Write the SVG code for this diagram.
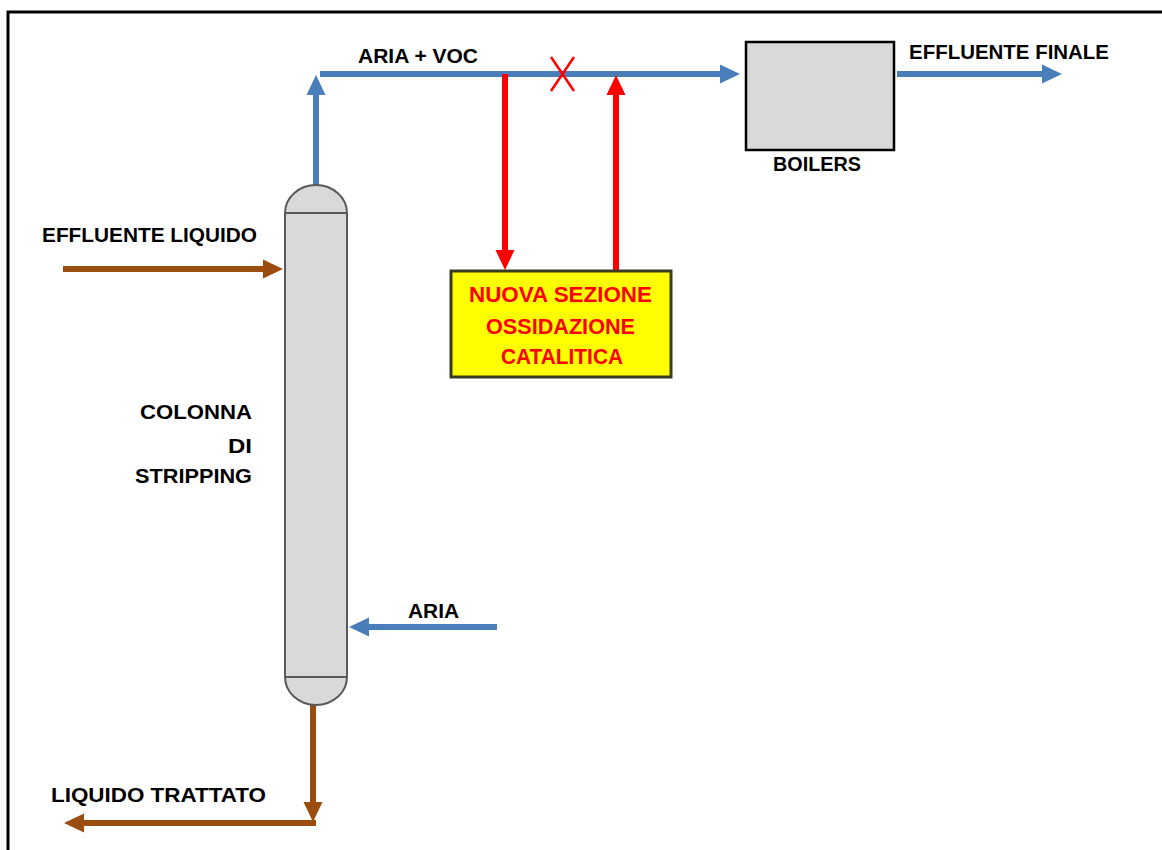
<svg xmlns="http://www.w3.org/2000/svg" width="1162" height="850" viewBox="0 0 1162 850">
<style>
.t{font-family:"Liberation Sans",Arial,sans-serif;font-weight:bold;font-size:21px;fill:#000}
.r{font-family:"Liberation Sans",Arial,sans-serif;font-weight:bold;font-size:22px;fill:#ff0000}
.blue{stroke:#4a7ebb;stroke-width:6;fill:none}
.brown{stroke:#9a4d0e;stroke-width:6;fill:none}
.red{stroke:#ff0000;stroke-width:6;fill:none}
</style>
<defs>
<marker id="ab" markerUnits="userSpaceOnUse" markerWidth="20" markerHeight="20" refX="0" refY="9.5" orient="auto" overflow="visible"><path d="M0,0 L20,9.5 L0,19 Z" fill="#4a7ebb"/></marker>
<marker id="aw" markerUnits="userSpaceOnUse" markerWidth="20" markerHeight="20" refX="0" refY="9.5" orient="auto" overflow="visible"><path d="M0,0 L20,9.5 L0,19 Z" fill="#9a4d0e"/></marker>
<marker id="ar" markerUnits="userSpaceOnUse" markerWidth="20" markerHeight="20" refX="0" refY="9.5" orient="auto" overflow="visible"><path d="M0,0 L20,9.5 L0,19 Z" fill="#ff0000"/></marker>
</defs>
<rect width="1162" height="850" fill="#fff"/>
<path d="M8,850 V12 H1162" fill="none" stroke="#000" stroke-width="3"/>

<g id="connectors">
<line class="blue" x1="316" y1="185" x2="316" y2="95" marker-end="url(#ab)"/>
<line class="blue" x1="320" y1="74" x2="720" y2="74" marker-end="url(#ab)"/>
<line class="red" x1="505" y1="74" x2="505" y2="250" marker-end="url(#ar)"/>
<line class="red" x1="616" y1="271" x2="616" y2="95" marker-end="url(#ar)"/>
<line class="blue" x1="897" y1="74" x2="1042" y2="74" marker-end="url(#ab)"/>
<line class="brown" x1="63" y1="269" x2="263" y2="269" marker-end="url(#aw)"/>
<line class="blue" x1="497" y1="627" x2="369" y2="627" marker-end="url(#ab)"/>
<line class="brown" x1="313" y1="705" x2="313" y2="802" marker-end="url(#aw)"/>
<line class="brown" x1="316" y1="823" x2="84" y2="823" marker-end="url(#aw)"/>
<path d="M551,57 L574,91 M574,57 L551,91" stroke="#ff0000" stroke-width="2.5" fill="none"/>
</g>

<g id="column">
<path d="M285,213 A31,28 0 0 1 347,213 V677 A31,28 0 0 1 285,677 Z" fill="#d9d9d9" stroke="#595959" stroke-width="2"/>
<path d="M285,213 H347 M285,677 H347" stroke="#595959" stroke-width="2"/>
<text class="t" x="252" y="419" text-anchor="end" textLength="112" lengthAdjust="spacingAndGlyphs">COLONNA</text>
<text class="t" x="252" y="453" text-anchor="end" textLength="24" lengthAdjust="spacingAndGlyphs">DI</text>
<text class="t" x="252" y="483" text-anchor="end" textLength="117" lengthAdjust="spacingAndGlyphs">STRIPPING</text>
</g>

<g id="boilers">
<rect x="746" y="42" width="148" height="108" fill="#d9d9d9" stroke="#000" stroke-width="2.5"/>
<text class="t" x="773" y="171" textLength="88" lengthAdjust="spacingAndGlyphs">BOILERS</text>
</g>

<g id="ossidazione">
<rect x="451" y="271" width="220" height="106" fill="#ffff00" stroke="#3a3a20" stroke-width="3"/>
<text class="r" x="469" y="302" textLength="183" lengthAdjust="spacingAndGlyphs">NUOVA SEZIONE</text>
<text class="r" x="486" y="334" textLength="149" lengthAdjust="spacingAndGlyphs">OSSIDAZIONE</text>
<text class="r" x="501" y="364" textLength="122" lengthAdjust="spacingAndGlyphs">CATALITICA</text>
</g>

<g id="labels">
<text class="t" x="358" y="63" textLength="120" lengthAdjust="spacingAndGlyphs">ARIA + VOC</text>
<text class="t" x="909" y="59" textLength="200" lengthAdjust="spacingAndGlyphs">EFFLUENTE FINALE</text>
<text class="t" x="42" y="242" textLength="215" lengthAdjust="spacingAndGlyphs">EFFLUENTE LIQUIDO</text>
<text class="t" x="408" y="618" textLength="51" lengthAdjust="spacingAndGlyphs">ARIA</text>
<text class="t" x="51" y="802" textLength="215" lengthAdjust="spacingAndGlyphs">LIQUIDO TRATTATO</text>
</g>
</svg>
